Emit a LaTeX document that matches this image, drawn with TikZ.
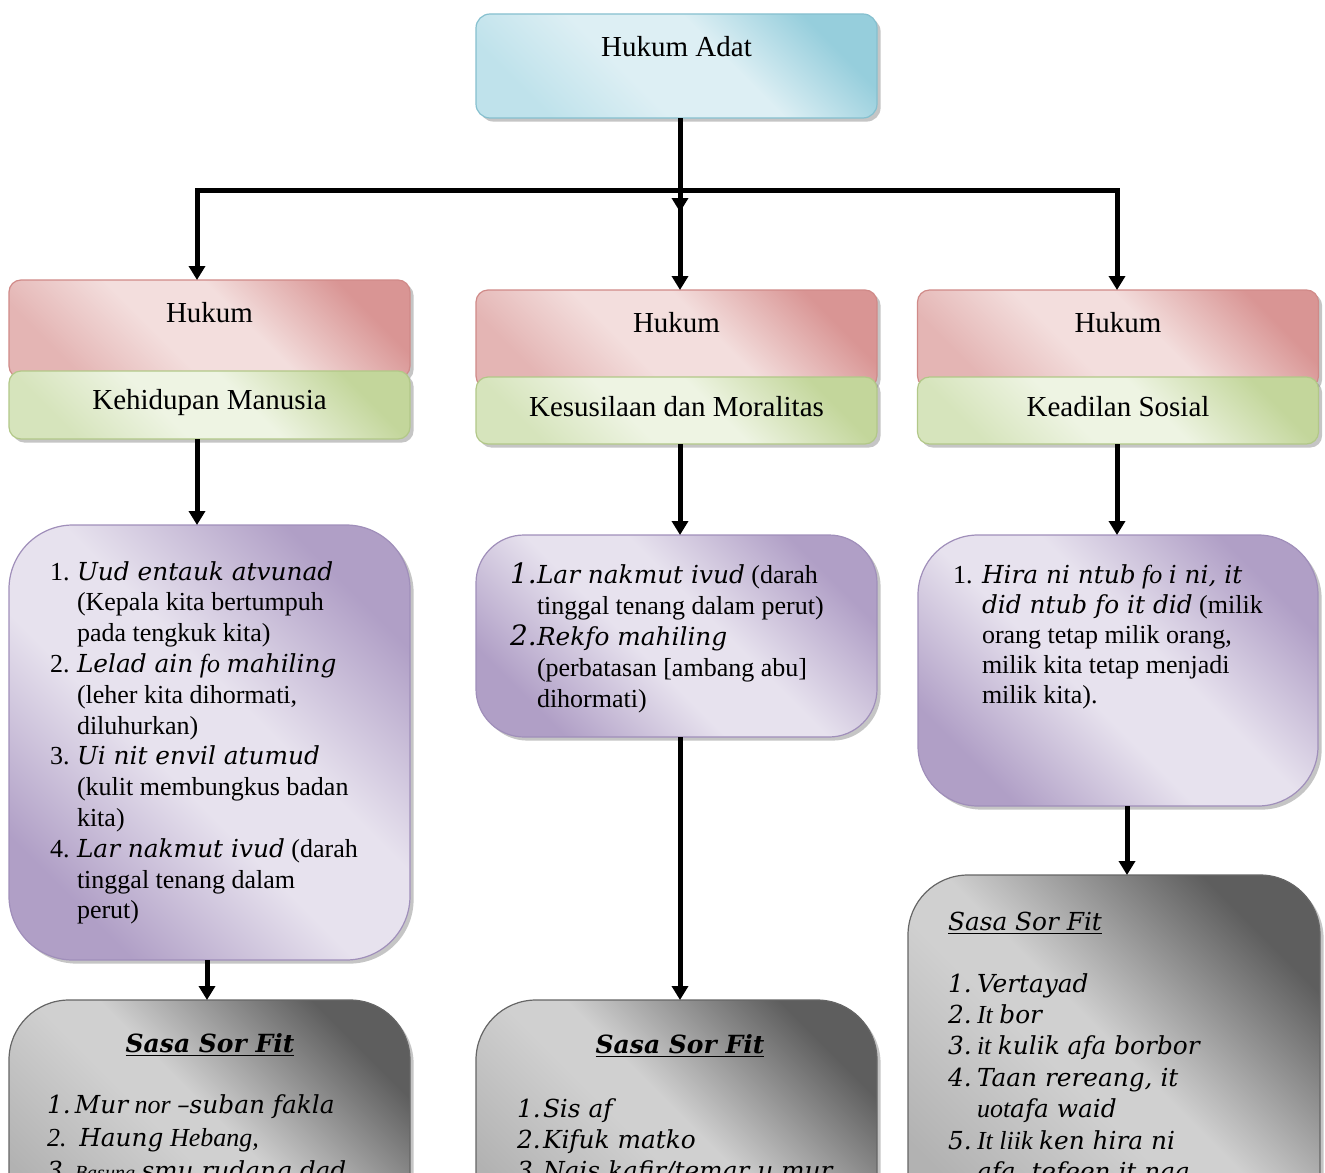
\documentclass[tikz,border=0pt]{standalone}
\usepackage{fontspec}
\setmainfont{Liberation Serif}
\newfontfamily\bk{DejaVu Serif}
\usetikzlibrary{arrows.meta,shadows}
\definecolor{cyL}{HTML}{DDEFF4}\definecolor{cyM}{HTML}{BFE2EB}\definecolor{cyD}{HTML}{96CEDC}\definecolor{cyB}{HTML}{86C0CF}
\definecolor{rdL}{HTML}{F3DEDD}\definecolor{rdM}{HTML}{E4B5B4}\definecolor{rdD}{HTML}{D99594}\definecolor{rdB}{HTML}{D08A88}
\definecolor{grL}{HTML}{EEF4E3}\definecolor{grM}{HTML}{D6E4BC}\definecolor{grD}{HTML}{C3D69B}\definecolor{grB}{HTML}{B2C888}
\definecolor{puL}{HTML}{E7E2EE}\definecolor{puM}{HTML}{C3B6D5}\definecolor{puD}{HTML}{B09FC6}\definecolor{puB}{HTML}{A08FBA}
\definecolor{gyA}{HTML}{B2B2B2}\definecolor{gyL}{HTML}{D0D0D0}\definecolor{gyD}{HTML}{5E5E5E}\definecolor{gyB}{HTML}{666666}
\pgfdeclarehorizontalshading{cysh}{100bp}{color(0bp)=(cyM); color(25bp)=(cyM); color(42bp)=(cyL); color(58bp)=(cyL); color(75bp)=(cyD); color(100bp)=(cyD)}
\pgfdeclarehorizontalshading{rdsh}{100bp}{color(0bp)=(rdM); color(25bp)=(rdM); color(42bp)=(rdL); color(56bp)=(rdL); color(75bp)=(rdD); color(100bp)=(rdD)}
\pgfdeclarehorizontalshading{grsh}{100bp}{color(0bp)=(grM); color(25bp)=(grM); color(42bp)=(grL); color(56bp)=(grL); color(75bp)=(grD); color(100bp)=(grD)}
\pgfdeclarehorizontalshading{push}{100bp}{color(0bp)=(puD); color(25bp)=(puD); color(44bp)=(puL); color(56bp)=(puL); color(75bp)=(puD); color(100bp)=(puD)}
\pgfdeclarehorizontalshading{gysh}{100bp}{color(0bp)=(gyA); color(25bp)=(gyA); color(45bp)=(gyL); color(52bp)=(gyL); color(75bp)=(gyD); color(100bp)=(gyD)}
\newcommand\bki{\bk\itshape\fontsize{12.4}{15}\selectfont}
\newcommand\bkbi{\bk\bfseries\itshape\fontsize{12.5}{15}\selectfont}
\newcommand\ttl{\fontsize{14.5}{17}\selectfont}
\tikzset{
  boxbase/.style={shade, shading angle=45, line width=0.6pt, inner sep=0pt, outer sep=0pt,
    drop shadow={opacity=0.45, shadow xshift=1.8pt, shadow yshift=-1.8pt}},
  cybox/.style={boxbase, shading=cysh, draw=cyB, rounded corners=7pt},
  rdbox/.style={boxbase, shading=rdsh, draw=rdB, rounded corners=6pt},
  grbox/.style={boxbase, shading=grsh, draw=grB, rounded corners=6pt},
  pubox/.style={boxbase, shading=push, draw=puB, rounded corners=#1},
  gybox/.style={boxbase, shading=gysh, draw=gyB, rounded corners=30pt},
  txt/.style={inner sep=0pt, outer sep=0pt},
  arr/.style={line width=2.5pt, -{Triangle[width=8pt,length=7pt]}},
  bus/.style={line width=2.5pt, line cap=rect},
}
\begin{document}
\begin{tikzpicture}[x=0.5pt,y=-0.5pt]
\useasboundingbox (0,0) rectangle (1325,1172);
\clip (0,0) rectangle (1325,1172);
\fill[white] (0,0) rectangle (1325,1172);
% boxes
\node[cybox, minimum width=200.5pt, minimum height=52pt] (top) at (676.5,66) {};
\node[rdbox, minimum width=200.5pt, minimum height=49pt] (rL) at (209.5,329) {};
\node[grbox, minimum width=200.5pt, minimum height=34pt] (gL) at (209.5,405) {};
\node[rdbox, minimum width=200.5pt, minimum height=49pt] (rM) at (676.5,339) {};
\node[grbox, minimum width=200.5pt, minimum height=33.5pt] (gM) at (676.5,410.5) {};
\node[rdbox, minimum width=200.5pt, minimum height=49pt] (rR) at (1118,339) {};
\node[grbox, minimum width=200.5pt, minimum height=33.5pt] (gR) at (1118,410.5) {};
\node[pubox=32pt, minimum width=200.5pt, minimum height=217.5pt] (pL) at (209.5,742.5) {};
\node[pubox=24pt, minimum width=200.5pt, minimum height=101pt] (pM) at (676.5,636) {};
\node[pubox=30pt, minimum width=200pt, minimum height=135.5pt] (pR) at (1118,670.5) {};
\node[gybox, minimum width=200.5pt, minimum height=130pt] (kL) at (209.5,1130) {};
\node[gybox, minimum width=200.5pt, minimum height=130pt] (kM) at (676.5,1130) {};
\node[gybox, minimum width=206pt, minimum height=192.5pt] (kR) at (1114,1067.5) {};
% connectors
\coordinate (busL) at (197,190);
\coordinate (busM) at (680,190);
\coordinate (busR) at (1117,190);
\coordinate (busTip) at (680,212);
\coordinate (cL) at (197,0);
\coordinate (cL2) at (207,0);
\coordinate (cM) at (680,0);
\coordinate (cR) at (1117,0);
\coordinate (cR2) at (1127,0);
\draw[arr] (top.south -| busM) -- (busTip);
\draw[bus] (busL) -- (busR);
\draw[arr] (busL) -- (busL |- rL.north);
\draw[arr] (busM) -- (busM |- rM.north);
\draw[arr] (busR) -- (busR |- rR.north);
\draw[arr] (gL.south -| cL) -- (pL.north -| cL);
\draw[arr] (pL.south -| cL2) -- (kL.north -| cL2);
\draw[arr] (gM.south -| cM) -- (pM.north -| cM);
\draw[arr] (pM.south -| cM) -- (kM.north -| cM);
\draw[arr] (gR.south -| cR) -- (pR.north -| cR);
\draw[arr] (pR.south -| cR2) -- (kR.north -| cR2);
% titles
\node[txt, anchor=base] (tTop) at (676.5,57) {\ttl Hukum Adat};
\node[txt, anchor=base] (tRL) at (209.5,322) {\ttl Hukum};
\node[txt, anchor=base] (tGL) at (209.5,409) {\ttl Kehidupan Manusia};
\node[txt, anchor=base] (tRM) at (676.5,332) {\ttl Hukum};
\node[txt, anchor=base] (tGM) at (676.5,416) {\ttl Kesusilaan dan Moralitas};
\node[txt, anchor=base] (tRR) at (1118,332) {\ttl Hukum};
\node[txt, anchor=base] (tGR) at (1118,416) {\ttl Keadilan Sosial};
% purple texts
\node[txt, anchor=base west] (xL) at (50,580) {\fontsize{13}{15.4}\selectfont
\begin{tabular}[t]{@{}p{13.5pt}@{}l@{}}
1. & {\bki Uud entauk atvunad}\\
 & (Kepala kita bertumpuh\\
 & pada tengkuk kita)\\
2. & {\bki Lelad ain} {\itshape fo} {\bki mahiling}\\
 & (leher kita dihormati,\\
 & diluhurkan)\\
3. & {\bki Ui nit envil atumud}\\
 & (kulit membungkus badan\\
 & kita)\\
4. & {\bki Lar nakmut ivud} (darah\\
 & tinggal tenang dalam\\
 & perut)
\end{tabular}};
\node[txt, anchor=base west] (xM) at (510,583) {\fontsize{13}{15.5}\selectfont
\begin{tabular}[t]{@{}p{13.5pt}@{}l@{}}
{\bk\itshape\fontsize{14}{15}\selectfont 1.} & {\bki Lar nakmut ivud} (darah\\
 & tinggal tenang dalam perut)\\
{\bk\itshape\fontsize{14}{15}\selectfont 2.} & {\bki Rekfo mahiling}\\
 & (perbatasan [ambang abu]\\
 & dihormati)
\end{tabular}};
\node[txt, anchor=base west] (xR) at (953,583) {\fontsize{13}{15}\selectfont
\begin{tabular}[t]{@{}p{14.5pt}@{}l@{}}
1. & {\bki Hira ni ntub} {\itshape fo} {\bki i ni, it}\\
 & {\bki did ntub fo it did} (milik\\
 & orang tetap milik orang,\\
 & milik kita tetap menjadi\\
 & milik kita).
\end{tabular}};
% grey texts
\node[txt, anchor=base] (hL) at (210,1052) {\bkbi\underline{Sasa Sor Fit}};
\node[txt, anchor=base west] (yL) at (47,1113) {\fontsize{13}{16.7}\selectfont
\begin{tabular}[t]{@{}p{14pt}@{}l@{}}
{\bki 1.} & {\bki Mur} {\itshape nor} {\bki –suban fakla}\\
{\itshape 2.} & \,{\bki Haung} {\itshape Hebang,}\\
{\bki 3.} & {\itshape\fontsize{10}{12}\selectfont Basung} {\bki smu rudang dad}
\end{tabular}};
\node[txt, anchor=base] (hM) at (680,1053) {\bkbi\underline{Sasa Sor Fit}};
\node[txt, anchor=base west] (yM) at (517,1117) {\fontsize{13}{15.5}\selectfont
\begin{tabular}[t]{@{}p{13pt}@{}l@{}}
{\bki 1.} & {\bki Sis af}\\
{\bki 2.} & {\bki Kifuk matko}\\
{\bki 3.} & {\bki Nais kafir/temar u mur}
\end{tabular}};
\node[txt, anchor=base west] (hR) at (948,930) {\bki\underline{Sasa Sor Fit}};
\node[txt, anchor=base west] (yR) at (948,992) {\fontsize{13}{15.7}\selectfont
\begin{tabular}[t]{@{}p{14.5pt}@{}l@{}}
{\bki 1.} & {\bki Vertayad}\\
{\bki 2.} & {\itshape It} {\bki bor}\\
{\bki 3.} & {\itshape it} {\bki kulik afa borbor}\\
{\bki 4.} & {\bki Taan rereang, it}\\
 & {\itshape uot}{\bki afa waid}\\
{\bki 5.} & {\itshape It liik} {\bki ken hira ni}\\
 & {\bki afa, tefeen it naa}
\end{tabular}};
\end{tikzpicture}
\end{document}
